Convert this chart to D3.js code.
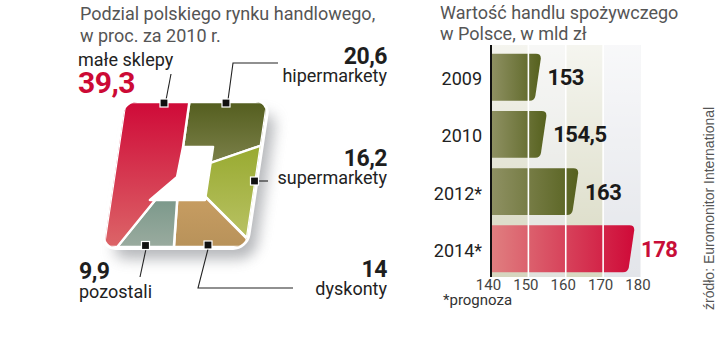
<!DOCTYPE html>
<html><head><meta charset="utf-8">
<script src="https://cdn.jsdelivr.net/npm/d3@7"></script>
<style>
html,body{margin:0;padding:0;background:#fff;}
svg{display:block;}
text{font-family:Roboto,"Noto Sans",sans-serif;}
</style></head><body>
<svg id="c" width="720" height="360"></svg>
<script>
// ---------- DATA ----------
const shareCategories = ["hipermarkety", "supermarkety", "dyskonty", "pozostali", "małe sklepy"];
const shareValues = [20.6, 16.2, 14, 9.9, 39.3];
const shareLabels = ["20,6", "16,2", "14", "9,9", "39,3"];
const years = ["2009", "2010", "2012*", "2014*"];
const tradeValues = [153, 154.5, 163, 178];
const tradeLabels = ["153", "154,5", "163", "178"];
const xTicks = [140, 150, 160, 170, 180];

// ---------- STYLE ----------
const sliceColors = [["#545e1f", "#7b8049"], ["#98aa30", "#b9c264"], ["#c79d62", "#b8925a"], ["#7c998b", "#9aab9f"], ["#cf0a38", "#dc6568"]];
const svg = d3.select("#c");
const defs = svg.append("defs");

// titles
const tg = svg.append("g").attr("fill", "#555").style("font-size", "18px");
tg.append("text").attr("x", 80).attr("y", 20).text("Podzial polskiego rynku handlowego,");
tg.append("text").attr("x", 80).attr("y", 42).text("w proc. za 2010 r.");
tg.append("text").attr("x", 440).attr("y", 19).text("Wartość handlu spożywczego");
tg.append("text").attr("x", 440).attr("y", 40).text("w Polsce, w mld zł");

// ---------- SQUARE "PIE" (ring between outer square and inner hole, area-proportional) ----------
const W = 71, H = 72.5;
const outerKnots = [[-7, -H], [W, -H], [W, H], [-W, H], [-W, -H]];
const innerKnots = [[-6.6, -27.5], [23.4, -27.5], [23.3, 25.5], [-31.7, 25.5], [-8.1, 2.5]];
const K = outerKnots.length;
function at(knots, s) {
  let k = Math.floor(s); if (k >= K) k = K - 1; const f = s - k;
  const p = knots[k], q = knots[(k + 1) % K];
  return [p[0] + (q[0] - p[0]) * f, p[1] + (q[1] - p[1]) * f];
}
function slicePoly(s0, s1) {
  const mids = d3.range(Math.floor(s0) + 1, Math.ceil(s1 - 1e-9));
  const outer = [at(outerKnots, s0), ...mids.map(k => outerKnots[k % K]), at(outerKnots, s1)];
  const inner = [at(innerKnots, s1), ...mids.slice().reverse().map(k => innerKnots[k % K]), at(innerKnots, s0)];
  return outer.concat(inner);
}
const areaOf = poly => Math.abs(d3.polygonArea(poly));
const total = areaOf(slicePoly(0, K - 1e-9));
function sAt(frac) {
  if (frac <= 0) return 0; if (frac >= 1) return K - 1e-9;
  let lo = 0, hi = K - 1e-9;
  for (let i = 0; i < 60; i++) { const m = (lo + hi) / 2; if (areaOf(slicePoly(0, m)) < frac * total) lo = m; else hi = m; }
  return (lo + hi) / 2;
}
const TAU = Math.PI * 2;
const arcs = d3.pie().sort(null).value(d => d)(shareValues);

const blur = defs.append("filter").attr("id", "sh").attr("x", "-30%").attr("y", "-30%").attr("width", "160%").attr("height", "160%");
blur.append("feGaussianBlur").attr("stdDeviation", 7);
defs.append("clipPath").attr("id", "sq").append("rect")
  .attr("x", -W).attr("y", -H).attr("width", 2 * W).attr("height", 2 * H).attr("rx", 12);
sliceColors.forEach((c, i) => {
  const g = defs.append("linearGradient").attr("id", "sg" + i).attr("x1", 0).attr("y1", 0).attr("x2", 0).attr("y2", 1);
  g.append("stop").attr("offset", 0).attr("stop-color", c[0]);
  g.append("stop").attr("offset", 1).attr("stop-color", c[1]);
});
const pieG = svg.append("g").attr("transform", "translate(185.5,174.5) skewX(-8.53)");
pieG.append("rect").attr("x", -W + 11).attr("y", -H + 12).attr("width", 2 * W).attr("height", 2 * H).attr("rx", 14)
  .attr("fill", "#878a90").attr("opacity", 0.6).attr("filter", "url(#sh)");
pieG.append("rect").attr("x", -W).attr("y", -H).attr("width", 2 * W).attr("height", 2 * H).attr("rx", 12)
  .attr("fill", "#fff").attr("stroke", "#fff").attr("stroke-width", 6);
pieG.append("g").attr("clip-path", "url(#sq)").selectAll("path").data(arcs).join("path")
  .attr("d", d => "M" + slicePoly(sAt(d.startAngle / TAU), sAt(d.endAngle / TAU)).map(p => p[0].toFixed(2) + "," + p[1].toFixed(2)).join("L") + "Z")
  .attr("fill", (d, i) => `url(#sg${i})`).attr("stroke", "#fff").attr("stroke-width", 2.5).attr("stroke-linejoin", "round");

// annotations (layout only)
const ann = [
  { marker: [226, 103], line: [[228, 100], [233, 63], [278, 63]], num: [387, 64], lab: [387, 82], anchor: "end" },
  { marker: [254.5, 181], line: [[258, 181], [268, 181]], num: [387, 166], lab: [387, 184], anchor: "end" },
  { marker: [208, 245], line: [[208, 249], [198, 288], [293, 288]], num: [387, 277], lab: [387, 295], anchor: "end" },
  { marker: [145.5, 245.5], line: [[146, 249], [140, 277]], num: [79, 279], lab: [79, 298], anchor: "start" },
  { marker: [164, 103], line: [[166, 100], [171, 74]], num: [78, 93], lab: [78, 66], anchor: "start", big: true }
];
const ag = svg.append("g");
ann.forEach((a, i) => {
  ag.append("polyline").attr("points", a.line.map(p => p.join(",")).join(" "))
    .attr("fill", "none").attr("stroke", "#222").attr("stroke-width", 1.1);
  ag.append("rect").attr("x", a.marker[0] - 4).attr("y", a.marker[1] - 4).attr("width", 8).attr("height", 8)
    .attr("fill", "#111").attr("stroke", "#fff").attr("stroke-width", 1.2);
  ag.append("text").attr("x", a.num[0]).attr("y", a.num[1]).attr("text-anchor", a.anchor)
    .attr("fill", a.big ? "#cc0a35" : "#1e1e1e").style("font-weight", 700)
    .style("font-size", a.big ? "30px" : "23px").style("letter-spacing", "-0.5px").text(shareLabels[i]);
  ag.append("text").attr("x", a.lab[0]).attr("y", a.lab[1]).attr("text-anchor", a.anchor)
    .attr("fill", "#222").style("font-size", "18px").text(shareCategories[i]);
});

// ---------- BAR CHART ----------
const x = d3.scaleLinear().domain([140, 180]).range([491, 640.5]);
const y = d3.scaleBand().domain(years).range([48, 278]).paddingInner(0.18).paddingOuter(0.1);
const yTop = 45, yBot = 277;
const bandCols = ["#d6d6bf", "#e1e2dd", "#d8d9c2", "#e3e5ea"];
const bg = svg.append("g");
bg.selectAll("rect").data(xTicks.slice(0, -1)).join("rect")
  .attr("x", d => x(d)).attr("y", yTop).attr("width", d => x(d + 10) - x(d)).attr("height", yBot - yTop)
  .attr("fill", (d, i) => bandCols[i]);
const wg = defs.append("linearGradient").attr("id", "wfade").attr("x1", 0).attr("y1", 0).attr("x2", 0).attr("y2", 1);
wg.append("stop").attr("offset", 0).attr("stop-color", "#fff").attr("stop-opacity", 0.75);
wg.append("stop").attr("offset", 1).attr("stop-color", "#fff").attr("stop-opacity", 0);
bg.append("rect").attr("x", x(140)).attr("y", yTop).attr("width", x(180) - x(140)).attr("height", yBot - yTop).attr("fill", "url(#wfade)");

const og = defs.append("linearGradient").attr("id", "olive").attr("x1", 0).attr("y1", 0).attr("x2", 1).attr("y2", 0);
og.append("stop").attr("offset", 0).attr("stop-color", "#8f9163");
og.append("stop").attr("offset", 1).attr("stop-color", "#56611e");
const rg = defs.append("linearGradient").attr("id", "redg").attr("x1", 0).attr("y1", 0).attr("x2", 1).attr("y2", 0);
rg.append("stop").attr("offset", 0).attr("stop-color", "#e07f80");
rg.append("stop").attr("offset", 1).attr("stop-color", "#cf0a38");

function barPath(v, yb) {
  const x0 = x(140), y0 = y(yb), y1 = y0 + y.bandwidth();
  const xt = x(v) + 1.5, xb = x(v) - 5, r = 5;
  return `M${x0},${y0}L${xt - r},${y0}Q${xt},${y0} ${xt - 0.3},${y0 + r}L${xb + 0.8},${y1 - r}Q${xb},${y1} ${xb - r},${y1}L${x0},${y1}Z`;
}
const last = years.length - 1;
svg.append("g").selectAll("path").data(tradeValues).join("path")
  .attr("d", (d, i) => barPath(d, years[i]))
  .attr("fill", (d, i) => i === last ? "url(#redg)" : "url(#olive)");
svg.append("g").selectAll("line").data(xTicks.slice(1, -1)).join("line")
  .attr("x1", d => x(d)).attr("x2", d => x(d)).attr("y1", yTop).attr("y2", yBot)
  .attr("stroke", "#fff").attr("stroke-width", 1.6);
svg.append("line").attr("x1", x(140)).attr("x2", x(140)).attr("y1", yTop).attr("y2", yBot)
  .attr("stroke", "#111").attr("stroke-width", 2);

const ax = svg.append("g").attr("transform", `translate(-3,${yBot})`)
  .call(d3.axisBottom(x).tickValues(xTicks).tickSize(0).tickPadding(2).tickFormat(d3.format("d")));
ax.select(".domain").remove();
ax.selectAll("text").attr("fill", "#444").style("font-size", "15px").style("font-family", "Roboto,sans-serif");

svg.append("g").selectAll("text").data(years).join("text")
  .attr("x", 482).attr("y", d => y(d) + y.bandwidth() / 2 + 8).attr("text-anchor", "end")
  .attr("fill", "#222").style("font-size", "18px").text(d => d);
svg.append("g").selectAll("text").data(tradeValues).join("text")
  .attr("x", d => x(d) + 8).attr("y", (d, i) => y(years[i]) + y.bandwidth() / 2 + 8)
  .attr("fill", (d, i) => i === last ? "#c80d38" : "#1a1a1a").style("font-weight", 700)
  .style("font-size", "22px").style("letter-spacing", "-0.5px").text((d, i) => tradeLabels[i]);

svg.append("text").attr("x", 443).attr("y", 305).attr("fill", "#333").style("font-size", "15px").text("*prognoza");
svg.append("text").attr("transform", "translate(714,310) rotate(-90)").attr("fill", "#555")
  .style("font-family", "'Liberation Sans',Arial,sans-serif").style("font-size", "14px")
  .text("źródło: Euromonitor International");
</script>
</body></html>
